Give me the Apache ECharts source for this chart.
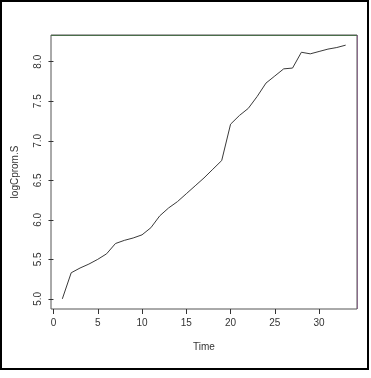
<!DOCTYPE html>
<html>
<head>
<meta charset="utf-8">
<script src="https://cdn.jsdelivr.net/npm/echarts@6/dist/echarts.min.js"></script>
<style>
  html, body { margin: 0; padding: 0; background: #fff; }
  #chart { width: 371px; height: 378px; }
</style>
</head>
<body>
<div id="chart"></div>
<script>
// time index 1..33 and the logged series
var timeSteps = [1, 2, 3, 4, 5, 6, 7, 8, 9, 10, 11, 12, 13, 14, 15, 16, 17,
  18, 19, 20, 21, 22, 23, 24, 25, 26, 27, 28, 29, 30, 31, 32, 33];
var logCpromS = [5.00, 5.33, 5.39, 5.44, 5.50, 5.57, 5.70, 5.74, 5.77, 5.81,
  5.90, 6.05, 6.15, 6.23, 6.33, 6.43, 6.53, 6.64, 6.75, 7.21, 7.32, 7.41,
  7.56, 7.73, 7.82, 7.91, 7.92, 8.12, 8.10, 8.13, 8.16, 8.18, 8.21];
var xTicks = [0, 5, 10, 15, 20, 25, 30];
var yTicks = [5.0, 5.5, 6.0, 6.5, 7.0, 7.5, 8.0];

var points = timeSteps.map(function (t, i) { return [t, logCpromS[i]]; });

// R pads the data range by 4% on each side
function padRange(arr) {
  var lo = Math.min.apply(null, arr), hi = Math.max.apply(null, arr);
  var d = (hi - lo) * 0.04;
  return [lo - d, hi + d];
}
var xr = padRange(timeSteps);
var yr = padRange(logCpromS);

var labelFont = { color: "#333", fontSize: 10, fontFamily: "Liberation Sans, Arial, sans-serif" };

var chart = echarts.init(document.getElementById("chart"));
chart.setOption({
  animation: false,
  grid: {
    left: 51, top: 35, width: 306, height: 274,
    show: true, borderColor: "#555", borderWidth: 1, backgroundColor: "#fff"
  },
  xAxis: {
    type: "value",
    min: xr[0], max: xr[1],
    name: "Time",
    nameLocation: "middle",
    nameGap: 33,
    nameTextStyle: labelFont,
    axisLine: { show: false },
    splitLine: { show: false },
    axisTick: { show: true, length: 5, customValues: xTicks, lineStyle: { color: "#333" } },
    axisLabel: Object.assign({ customValues: xTicks, margin: 9 }, labelFont)
  },
  yAxis: {
    type: "value",
    min: yr[0], max: yr[1],
    name: "logCprom.S",
    nameLocation: "middle",
    nameGap: 31,
    nameTextStyle: labelFont,
    axisLine: { show: false },
    splitLine: { show: false },
    axisTick: { show: true, length: 5, customValues: yTicks, lineStyle: { color: "#333" } },
    axisLabel: Object.assign({
      customValues: yTicks, rotate: 90, margin: 8,
      formatter: function (v) { return v.toFixed(1); }
    }, labelFont)
  },
  graphic: [{
    type: "rect",
    shape: { x: 1, y: 1, width: 367, height: 368 },
    style: { fill: null, stroke: "#000", lineWidth: 2 },
    silent: true
  }, {
    // greenish top edge and purplish right edge of the plot box
    type: "line",
    shape: { x1: 51, y1: 35.5, x2: 357, y2: 35.5 },
    style: { stroke: "#4a6e4a", lineWidth: 1 },
    silent: true, z: 10
  }, {
    type: "line",
    shape: { x1: 357.5, y1: 35, x2: 357.5, y2: 309 },
    style: { stroke: "#8a6a8a", lineWidth: 1 },
    silent: true, z: 10
  }],
  series: [{
    type: "line",
    data: points,
    showSymbol: false,
    lineStyle: { color: "#3a3a3a", width: 1 }
  }]
});
</script>
</body>
</html>
